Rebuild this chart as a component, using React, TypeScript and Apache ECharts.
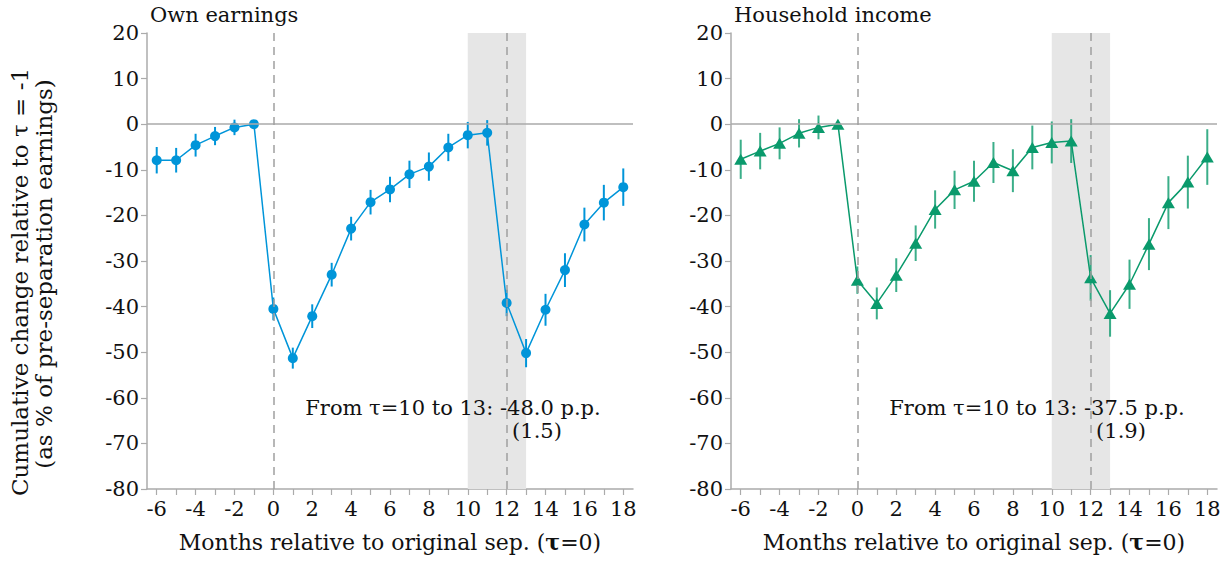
import React, { useEffect, useRef } from "react";
import * as echarts from "echarts";

const months = [-6, -5, -4, -3, -2, -1, 0, 1, 2, 3, 4, 5, 6, 7, 8, 9, 10, 11, 12, 13, 14, 15, 16, 17, 18];
const xTicks = months;
const xLabels = [-6, -4, -2, 0, 2, 4, 6, 8, 10, 12, 14, 16, 18];

const earnings = [-7.9, -7.9, -4.6, -2.6, -0.7, 0, -40.5, -51.3, -42.1, -33.0, -22.9, -17.1, -14.3, -11.0, -9.3, -5.1, -2.4, -1.9, -39.2, -50.2, -40.7, -32.0, -22.0, -17.2, -13.8];
const earningsCi = [2.9, 2.7, 2.5, 2.0, 1.7, 0, 2.5, 2.3, 2.6, 2.6, 2.6, 2.7, 2.8, 3.0, 3.1, 3.0, 2.9, 2.8, 2.9, 3.1, 3.5, 3.7, 3.7, 3.9, 4.1];

const household = [-7.7, -5.9, -4.2, -2.0, -0.7, 0, -34.2, -39.3, -33.1, -26.1, -18.7, -14.4, -12.5, -8.4, -10.2, -5.1, -4.0, -3.7, -33.7, -41.5, -35.1, -26.3, -17.2, -12.7, -7.2];
const householdCi = [4.3, 4.0, 3.5, 3.1, 2.6, 0, 3.0, 3.5, 3.7, 3.9, 4.2, 4.2, 4.5, 4.5, 4.7, 4.8, 4.6, 4.8, 5.0, 5.1, 5.4, 5.7, 5.8, 5.8, 6.1];

const panelTitles = ["Own earnings", "Household income"];
const shadeRange = [10, 13];
const dashedAt = [0, 12];
const notes = ["From τ=10 to 13: -48.0 p.p.", "From τ=10 to 13: -37.5 p.p."];
const noteSe = ["(1.5)", "(1.9)"];

const BLUE = "#0095d9";
const GREEN = "#0a9a6c";
const AXIS = "#ababab";
const FONT = "DejaVu Serif";
const FS = 21;

export default function App() {
  const ref = useRef<HTMLDivElement>(null);
  useEffect(() => {
    if (!ref.current) return;
    const chart = echarts.init(ref.current, null, { renderer: "svg" });
    const grids = [
      { left: 147, top: 33, width: 486, height: 456 },
      { left: 731, top: 33, width: 486, height: 456 },
    ];
    const xAxes = grids.map((_, i) => ({
      type: "value",
      gridIndex: i,
      min: -6.5,
      max: 18.5,
      name: "Months relative to original sep. ({b|τ}=0)",
      nameLocation: "middle",
      nameGap: 42,
      nameTextStyle: {
        fontFamily: FONT,
        fontSize: 22,
        color: "#111",
        rich: { b: { fontFamily: FONT, fontSize: 22, fontWeight: "bold", color: "#111" } },
      },
      axisLine: { show: true, onZero: false, lineStyle: { color: AXIS, width: 1.5 } },
      axisTick: { show: true, length: 6, customValues: xTicks, lineStyle: { color: AXIS, width: 1.2 } },
      axisLabel: {
        customValues: xLabels,
        fontFamily: FONT,
        fontSize: FS,
        color: "#111",
        margin: 9,
        formatter: (v: number) => String(v),
      },
      splitLine: { show: false },
    }));
    const yAxes = grids.map((_, i) => ({
      type: "value",
      gridIndex: i,
      min: -80,
      max: 20,
      interval: 10,
      axisLine: { show: true, onZero: false, lineStyle: { color: AXIS, width: 1.5 } },
      axisTick: { show: true, length: 6, lineStyle: { color: AXIS, width: 1.2 } },
      axisLabel: { fontFamily: FONT, fontSize: FS, color: "#111", margin: 8 },
      splitLine: { show: false },
    }));

    const panels = [
      { vals: earnings, ci: earningsCi, color: BLUE, symbol: "circle", size: 10 as any, barColor: BLUE },
      { vals: household, ci: householdCi, color: GREEN, symbol: "triangle", size: [13, 11] as any, barColor: "rgba(10,154,108,0.8)" },
    ];

    const series: any[] = [];
    panels.forEach((p, i) => {
      series.push({
        type: "line",
        xAxisIndex: i,
        yAxisIndex: i,
        data: months.map((m, k) => [m, p.vals[k]]),
        symbol: p.symbol,
        symbolSize: p.size,
        lineStyle: { color: p.color, width: 1.5 },
        itemStyle: { color: p.color },
        z: 4,
        markArea: {
          silent: true,
          itemStyle: { color: "#e6e6e6" },
          data: [[{ xAxis: shadeRange[0] }, { xAxis: shadeRange[1] }]],
        },
        markLine: {
          silent: true,
          symbol: "none",
          label: { show: false },
          data: [
            { yAxis: 0, lineStyle: { color: "#aaaaaa", width: 1.5, type: "solid" } },
            ...dashedAt.map((d) => ({ xAxis: d, lineStyle: { color: "#a0a0a0", width: 1.5, type: [8, 6] } })),
          ],
        },
      });
      series.push({
        type: "custom",
        xAxisIndex: i,
        yAxisIndex: i,
        z: 3,
        data: months.map((m, k) => [m, p.vals[k] - p.ci[k], p.vals[k] + p.ci[k]]),
        renderItem: (params: any, api: any) => {
          const a = api.coord([api.value(0), api.value(1)]);
          const b = api.coord([api.value(0), api.value(2)]);
          return {
            type: "line",
            shape: { x1: a[0], y1: a[1], x2: b[0], y2: b[1] },
            style: { stroke: p.barColor, lineWidth: 2 },
          };
        },
      });
    });

    const textStyle = (t: string, extra: any = {}) => ({
      text: t,
      fontFamily: FONT,
      fontSize: FS,
      fill: "#111",
      ...extra,
    });

    const graphic: any[] = [];
    grids.forEach((g, i) => {
      graphic.push({ type: "text", z: 100, x: g.left + 3, y: 15, style: textStyle(panelTitles[i], { textAlign: "left", textVerticalAlign: "middle" }) });
      graphic.push({ type: "text", z: 100, x: g.left + 306, y: 408, style: textStyle(notes[i], { textAlign: "center", textVerticalAlign: "middle" }) });
      graphic.push({ type: "text", z: 100, x: g.left + 390, y: 431, style: textStyle(noteSe[i], { textAlign: "center", textVerticalAlign: "middle" }) });
    });
    graphic.push({
      type: "text",
      z: 100,
      x: 20,
      y: 282,
      rotation: Math.PI / 2,
      style: textStyle("Cumulative change relative to τ = -1", { textAlign: "center", textVerticalAlign: "middle", fontSize: 23 }),
    });
    graphic.push({
      type: "text",
      z: 100,
      x: 44,
      y: 274,
      rotation: Math.PI / 2,
      style: textStyle("(as % of pre-separation earnings)", { textAlign: "center", textVerticalAlign: "middle", fontSize: 23 }),
    });

    chart.setOption({
      animation: false,
      backgroundColor: "#ffffff",
      grid: grids,
      xAxis: xAxes,
      yAxis: yAxes,
      series,
      graphic,
    });
    return () => chart.dispose();
  }, []);
  return <div ref={ref} style={{ position: "fixed", left: 0, top: 0, width: 1229, height: 561 }} />;
}
